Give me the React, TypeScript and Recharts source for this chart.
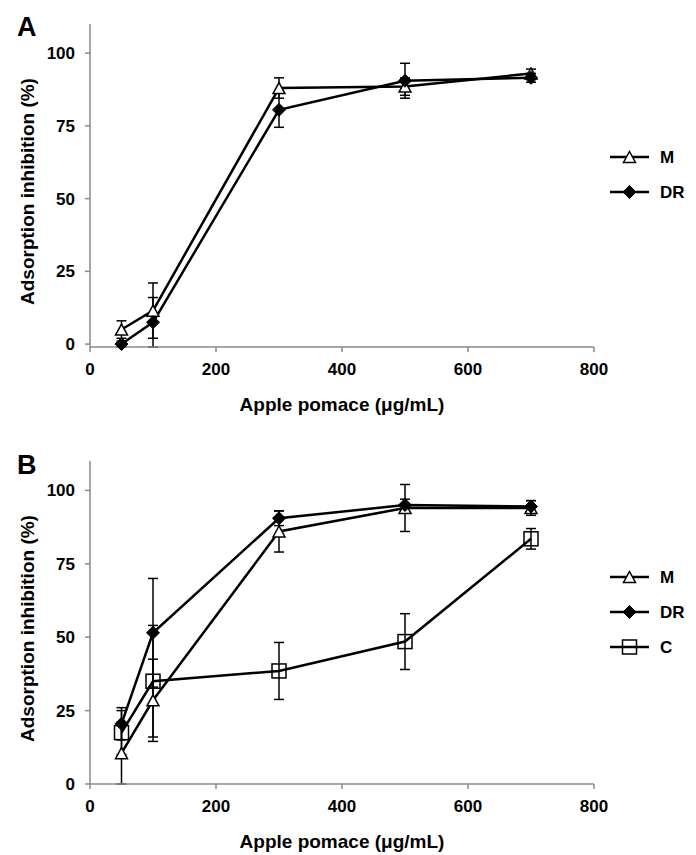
import React from 'react';
import { LineChart, Line, XAxis, YAxis, ErrorBar, Legend, Label } from 'recharts';

// ---- data ----
const doses = [50, 100, 300, 500, 700];
const xTicks = [0, 200, 400, 600, 800];
const yTicks = [0, 25, 50, 75, 100];
const seriesOrder = ['M', 'DR', 'C'];

// Panel A
const aM = [5, 11.5, 88, 88.5, 93];
const aMErr = [3, 9.5, 3.5, 3, 1.5];
const aDR = [0, 7.5, 80.5, 90.5, 91.5];
const aDRErr = [1, 8.5, 6, 6, 1.5];

// Panel B
const bM = [10.5, 28.5, 86, 94, 94];
const bMErr = [10.5, 14, 7, 8, 2.5];
const bDR = [20.5, 51.5, 90.5, 95, 94.5];
const bDRErr = [5.5, 18.5, 2.5, 2, 2];
const bC = [17.5, 35, 38.5, 48.5, 83.5];
const bCErr = [7.5, 19, 9.7, 9.5, 3.5];

const xTitle = 'Apple pomace (\u03bcg/mL)';
const yTitle = 'Adsorption inhibition (%)';

type S = { key: string; values: number[]; errors: number[] };

function buildRows(series: S[]) {
  return doses.map((x, i) => {
    const row: any = { x };
    series.forEach((s) => {
      row[s.key] = s.values[i];
      row[s.key + 'Err'] = s.errors[i];
    });
    return row;
  });
}

const dataA = buildRows([
  { key: 'M', values: aM, errors: aMErr },
  { key: 'DR', values: aDR, errors: aDRErr },
]);
const dataB = buildRows([
  { key: 'M', values: bM, errors: bMErr },
  { key: 'DR', values: bDR, errors: bDRErr },
  { key: 'C', values: bC, errors: bCErr },
]);

const FONT = '"Liberation Sans", Arial, sans-serif';

const Marker = ({ kind, cx, cy }: { kind: string; cx: number; cy: number }) => {
  if (cx == null || cy == null) return null;
  if (kind === 'M') {
    const w = 12, h = 11;
    return (
      <polygon
        points={`${cx},${cy - h / 2} ${cx + w / 2},${cy + h / 2} ${cx - w / 2},${cy + h / 2}`}
        fill="#fff"
        stroke="#000"
        strokeWidth={1.5}
      />
    );
  }
  if (kind === 'DR') {
    const r = 6.5;
    return (
      <polygon
        points={`${cx},${cy - r} ${cx + r},${cy} ${cx},${cy + r} ${cx - r},${cy}`}
        fill="#000"
        stroke="#000"
        strokeWidth={1}
      />
    );
  }
  const s = 14;
  return <rect x={cx - s / 2} y={cy - s / 2} width={s} height={s} fill="none" stroke="#000" strokeWidth={1.5} />;
};

const dotFor = (kind: string) => (p: any) => (
  <Marker key={`${kind}-${p.index}`} kind={kind} cx={p.cx} cy={p.cy} />
);

const keyOf = (e: any) => String(e.dataKey ?? e.payload?.dataKey ?? e.value);

const renderLegend = (props: any) => {
  const payload = [...(props.payload || [])].sort(
    (a: any, b: any) => seriesOrder.indexOf(keyOf(a)) - seriesOrder.indexOf(keyOf(b))
  );
  return (
    <svg width={96} height={payload.length * 35 + 4}>
      {payload.map((e: any, i: number) => {
        const cy = 17 + i * 35;
        const k = keyOf(e);
        return (
          <g key={k}>
            <line x1={10} x2={49} y1={cy} y2={cy} stroke="#000" strokeWidth={2.5} />
            <Marker kind={k} cx={29.5} cy={cy} />
            <text x={60} y={cy} dy="0.36em" fontSize={17} fontWeight="bold" fontFamily={FONT} fill="#000">
              {e.value}
            </text>
          </g>
        );
      })}
    </svg>
  );
};

const axisStroke = '#8a8a8a';
const tickStyle = { fontSize: 17, fontWeight: 'bold', fill: '#000', fontFamily: FONT };

function Panel({
  data,
  keys,
  height,
  top,
  bottom,
  legendTop,
}: {
  data: any[];
  keys: string[];
  height: number;
  top: number;
  bottom: number;
  legendTop: number;
}) {
  return (
    <LineChart
      width={696}
      height={height}
      data={data}
      margin={{ top, right: 102, bottom, left: 0 }}
      style={{ fontFamily: FONT }}
    >
      <XAxis
        dataKey="x"
        type="number"
        domain={[0, 800]}
        ticks={xTicks}
        height={70}
        tick={tickStyle}
        tickSize={5}
        tickMargin={11}
        axisLine={{ stroke: axisStroke, strokeWidth: 1.5 }}
        tickLine={{ stroke: axisStroke, strokeWidth: 1.5 }}
      >
        <Label
          value={xTitle}
          position="insideTop"
          offset={51}
          fontSize={19}
          fontWeight="bold"
          fontFamily={FONT}
          fill="#000"
        />
      </XAxis>
      <YAxis
        type="number"
        domain={[0, 110]}
        ticks={yTicks}
        width={90}
        tick={tickStyle}
        tickSize={5}
        tickMargin={10}
        axisLine={{ stroke: axisStroke, strokeWidth: 1.5 }}
        tickLine={{ stroke: axisStroke, strokeWidth: 1.5 }}
      >
        <Label
          value={yTitle}
          angle={-90}
          position="center"
          dx={-18}
          dy={6}
          fontSize={19}
          fontWeight="bold"
          fontFamily={FONT}
          fill="#000"
        />
      </YAxis>
      <Legend
        layout="vertical"
        align="center"
        verticalAlign="middle"
        content={renderLegend}
        wrapperStyle={{ left: 600, top: legendTop, width: 96 }}
      />
      {keys.map((k) => (
        <Line
          key={k}
          dataKey={k}
          name={k}
          stroke="#000"
          strokeWidth={2.5}
          isAnimationActive={false}
          dot={dotFor(k)}
          activeDot={false}
        >
          <ErrorBar dataKey={k + 'Err'} direction="y" width={5} stroke="#000" strokeWidth={1.5} />
        </Line>
      ))}
    </LineChart>
  );
}

const letterStyle: React.CSSProperties = {
  position: 'absolute',
  left: 17,
  fontFamily: FONT,
  fontWeight: 'bold',
  fontSize: 27,
  lineHeight: '27px',
  color: '#000',
};

export default function App() {
  return (
    <div style={{ position: 'absolute', left: 0, top: 0, width: 696, height: 855, background: '#fff' }}>
      <div style={{ position: 'absolute', left: 0, top: 0 }}>
        <Panel data={dataA} keys={['M', 'DR']} height={428} top={24} bottom={11} legendTop={140} />
      </div>
      <div style={{ position: 'absolute', left: 0, top: 428 }}>
        <Panel data={dataB} keys={['M', 'DR', 'C']} height={427} top={33} bottom={1} legendTop={132} />
      </div>
      <div style={{ ...letterStyle, top: 14 }}>A</div>
      <div style={{ ...letterStyle, top: 452 }}>B</div>
    </div>
  );
}
